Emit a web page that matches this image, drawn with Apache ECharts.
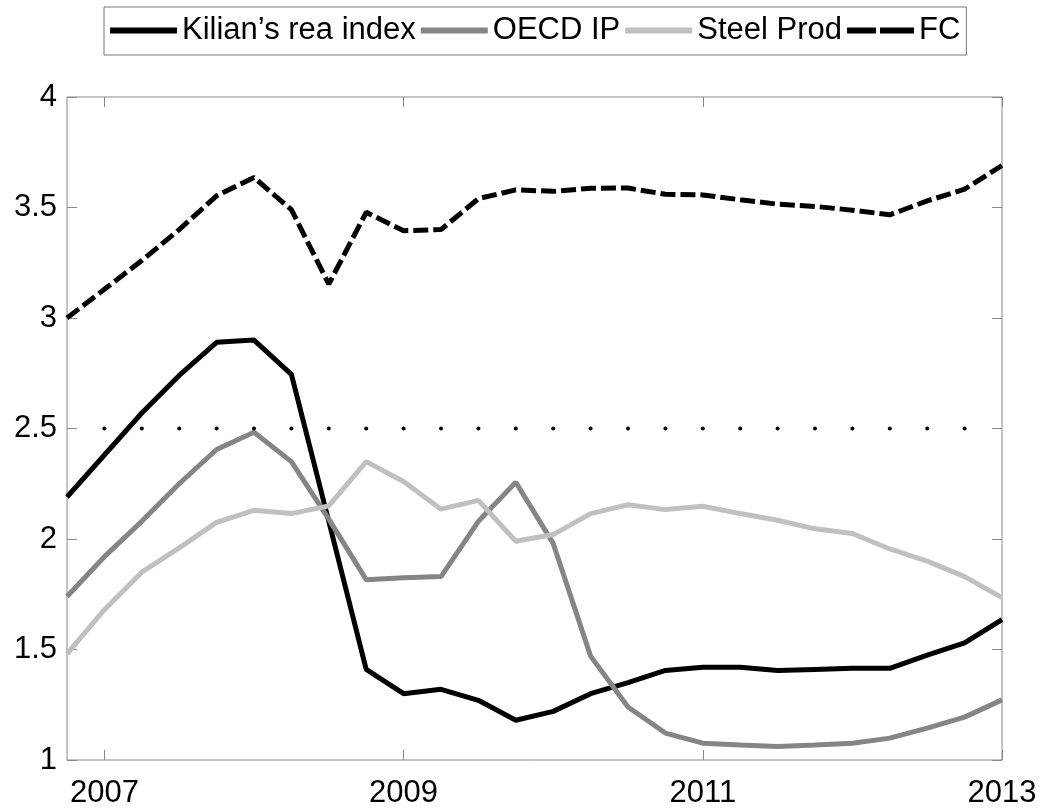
<!DOCTYPE html>
<html>
<head>
<meta charset="utf-8">
<script src="https://cdn.jsdelivr.net/npm/echarts@6/dist/echarts.min.js"></script>
<style>
  html, body { margin: 0; padding: 0; background: #fff; }
  #show { width: 1043px; height: 811px; }
</style>
</head>
<body>
<div id="show"></div>
<script>
    // quarterly dates, decimal years
    var quarters = [2006.75, 2007, 2007.25, 2007.5, 2007.75, 2008, 2008.25, 2008.5, 2008.75,
        2009, 2009.25, 2009.5, 2009.75, 2010, 2010.25, 2010.5, 2010.75,
        2011, 2011.25, 2011.5, 2011.75, 2012, 2012.25, 2012.5, 2012.75, 2013];
    var kilian = [2.19, 2.38, 2.57, 2.74, 2.89, 2.90, 2.745, 2.08, 1.41, 1.30, 1.32, 1.27, 1.18,
        1.22, 1.30, 1.35, 1.405, 1.42, 1.42, 1.405, 1.41, 1.415, 1.415, 1.475, 1.53, 1.635];
    var oecd = [1.74, 1.92, 2.08, 2.25, 2.405, 2.483, 2.35, 2.09, 1.816, 1.825, 1.83, 2.08, 2.257,
        1.98, 1.47, 1.24, 1.122, 1.076, 1.068, 1.061, 1.068, 1.076, 1.099, 1.144, 1.194, 1.272];
    var steel = [1.48, 1.68, 1.85, 1.96, 2.075, 2.13, 2.115, 2.15, 2.35, 2.26, 2.135, 2.175, 1.99,
        2.02, 2.115, 2.155, 2.133, 2.148, 2.115, 2.085, 2.046, 2.025, 1.955, 1.90, 1.83, 1.735];
    var fc = [3.00, 3.13, 3.26, 3.40, 3.553, 3.636, 3.49, 3.153, 3.478, 3.395, 3.40, 3.54, 3.58,
        3.573, 3.587, 3.588, 3.56, 3.557, 3.535, 3.515, 3.505, 3.488, 3.467, 3.53, 3.583, 3.69];
    // dotted reference level, one dot per quarter
    var refQuarters = quarters.slice(1, 25);
    var refLevel = 2.5;
    var xTicks = [2007, 2009, 2011, 2013];
    var names = ['Kilian\u2019s rea index', 'OECD IP', 'Steel Prod', 'FC'];

    var myChart = echarts.init(document.getElementById('show'));
    var font = 'Liberation Sans, Arial, sans-serif';

    function pairs(xs, ys) {
        var out = [];
        for (var i = 0; i < xs.length; i++) out.push([xs[i], ys[i]]);
        return out;
    }
    var refData = [];
    for (var j = 0; j < refQuarters.length; j++) refData.push([refQuarters[j], refLevel]);

    var frame = '#888';
    var solidIcon = 'path://M0,0h67v6h-67z';
    var dashIcon = 'path://M0,0h29v6h-29zM33,0h34v6h-34z';
    var option = {
        animation: false,
        backgroundColor: '#fff',
        grid: {left: 67, right: 41, top: 97, bottom: 51, show: true, borderColor: frame, borderWidth: 1},
        legend: {
            data: [
                {name: names[0], icon: solidIcon},
                {name: names[1], icon: solidIcon},
                {name: names[2], icon: solidIcon},
                {name: names[3], icon: dashIcon}
            ],
            left: 104, top: 7,
            padding: [8, 6, 9, 6],
            itemWidth: 67, itemHeight: 6, itemGap: 5,
            borderColor: '#777', borderWidth: 1,
            textStyle: {fontSize: 31, color: '#000', fontFamily: font}
        },
        xAxis: [{
            type: 'value', min: 2006.75, max: 2013,
            splitLine: {show: false},
            axisLine: {show: false},
            axisTick: {show: true, inside: true, length: 10, customValues: xTicks, lineStyle: {color: frame}},
            axisLabel: {
                customValues: xTicks, fontSize: 31, color: '#000', fontFamily: font, margin: 18,
                formatter: function (v) { return String(v); }
            }
        }, {
            type: 'value', min: 2006.75, max: 2013, position: 'top',
            splitLine: {show: false},
            axisLine: {show: false},
            axisTick: {show: true, inside: true, length: 10, customValues: xTicks, lineStyle: {color: frame}},
            axisLabel: {show: false}
        }],
        yAxis: [{
            type: 'value', min: 1, max: 4, interval: 0.5,
            splitLine: {show: false},
            axisLine: {show: false},
            axisTick: {show: true, inside: true, length: 10, lineStyle: {color: frame}},
            axisLabel: {fontSize: 31, color: '#000', fontFamily: font, margin: 10}
        }, {
            type: 'value', min: 1, max: 4, interval: 0.5, position: 'right',
            splitLine: {show: false},
            axisLine: {show: false},
            axisTick: {show: true, inside: true, length: 10, lineStyle: {color: frame}},
            axisLabel: {show: false}
        }],
        series: [
            {
                name: names[0], type: 'line', data: pairs(quarters, kilian),
                symbol: 'none', color: '#000',
                lineStyle: {width: 5, color: '#000'}
            },
            {
                name: names[1], type: 'line', data: pairs(quarters, oecd),
                symbol: 'none', color: '#858585',
                lineStyle: {width: 5, color: '#858585'}
            },
            {
                name: names[2], type: 'line', data: pairs(quarters, steel),
                symbol: 'none', color: '#c0c0c0',
                lineStyle: {width: 5, color: '#c0c0c0'}
            },
            {
                name: names[3], type: 'line', data: pairs(quarters, fc),
                symbol: 'none', color: '#000',
                lineStyle: {width: 5, color: '#000', type: [15, 5]}
            },
            {
                name: 'ref', type: 'line', data: refData,
                symbol: 'circle', symbolSize: 4, silent: true,
                itemStyle: {color: '#000'},
                lineStyle: {width: 0, opacity: 0}
            }
        ]
    };
    myChart.setOption(option);
</script>
</body>
</html>
